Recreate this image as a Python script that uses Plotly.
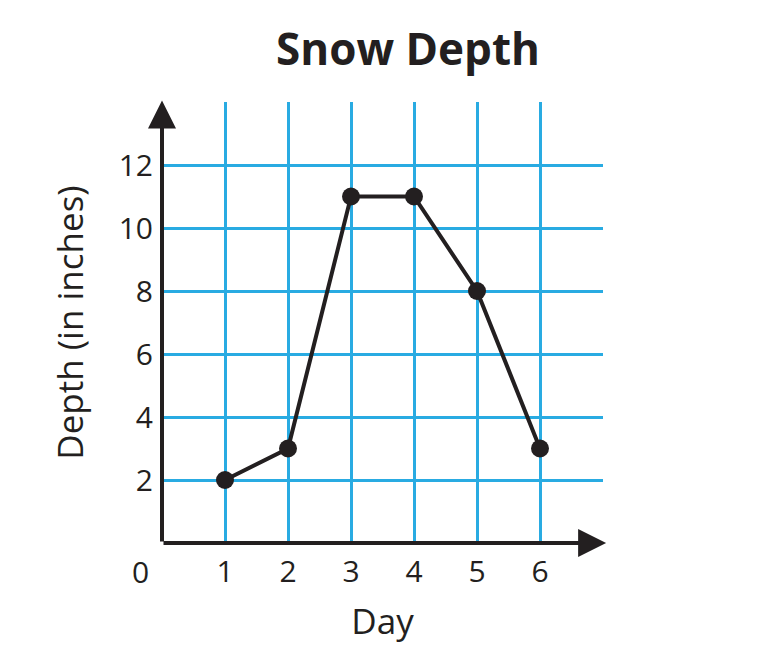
import plotly.graph_objects as go

days = [1, 2, 3, 4, 5, 6]
depth = [2, 3, 11, 11, 8, 3]
x_ticks = [1, 2, 3, 4, 5, 6]
y_ticks = [2, 4, 6, 8, 10, 12]

INK = "#231f20"
GRID = "#29abe2"
FONT = "Open Sans"

fig = go.Figure()
fig.add_trace(go.Scatter(
    x=days, y=depth, mode="lines+markers",
    line=dict(color=INK, width=4),
    marker=dict(color=INK, size=18),
    cliponaxis=False, showlegend=False,
))

fig.update_layout(
    width=761, height=653,
    margin=dict(l=154, r=166, t=94, b=118, autoexpand=False),
    paper_bgcolor="white", plot_bgcolor="white",
    font=dict(family=FONT, color=INK, size=30),
    xaxis=dict(range=[0, 7], tickvals=x_ticks, showgrid=True, gridcolor=GRID,
               gridwidth=2.5, zeroline=False, showline=False, automargin=False,
               ticklabelstandoff=8, tickfont=dict(size=30),
               title=dict(text="Day", font=dict(size=35), standoff=19)),
    yaxis=dict(range=[0, 14], tickvals=y_ticks, showgrid=True, gridcolor=GRID,
               gridwidth=2.5, zeroline=False, showline=False, automargin=False,
               ticklabelstandoff=8, tickfont=dict(size=30),
               title=dict(text="Depth (in inches)", font=dict(size=35), standoff=24)),
    annotations=[
        dict(text="<b>Snow Depth</b>", xref="paper", yref="paper",
             x=(408 - 162) / 441, y=1 + (102 - 48) / 441,
             xanchor="center", yanchor="middle",
             showarrow=False, font=dict(size=44)),
        dict(text="0", x=0, y=0, xref="x", yref="y", xshift=-22, yshift=-28,
             showarrow=False, font=dict(size=30)),
        dict(x=0, y=14.05, ax=0, ay=0, xref="x", yref="y", axref="x", ayref="y",
             showarrow=True, arrowhead=2, arrowsize=1.4, arrowwidth=4, arrowcolor=INK,
             text=""),
        dict(x=7.05, y=0, ax=0, ay=0, xref="x", yref="y", axref="x", ayref="y",
             showarrow=True, arrowhead=2, arrowsize=1.4, arrowwidth=4, arrowcolor=INK,
             text=""),
    ],
)

fig.write_html("out.html")
